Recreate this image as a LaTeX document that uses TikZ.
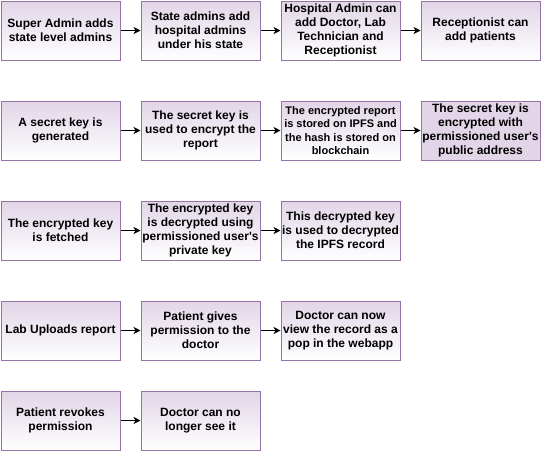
\documentclass[tikz,border=0pt]{standalone}
\usepackage{fontspec}
\setmainfont{Liberation Sans}[Ligatures=TeXOff]
\usetikzlibrary{arrows.meta}
\usetikzlibrary{positioning}
\usetikzlibrary{calc}

\definecolor{boxline}{HTML}{9673A6}
\definecolor{boxtop}{HTML}{E1D5E7}

\tikzset{
	stepbox/.style={draw=boxline, line width=1pt, top color=boxtop, bottom color=white,
		minimum width=119pt, minimum height=59pt, inner sep=0pt, align=center,
		font=\bfseries\fontsize{12}{14}\selectfont},
	flow/.style={line width=1pt, -{Stealth[length=7pt,width=7pt,inset=2pt]}}
}

\begin{document}
\begin{tikzpicture}[x=1pt, y=1pt, auto, swap]

	\def\dx{140};
	\def\x{60.5};

	\useasboundingbox (0,0) rectangle (541,-451);

	% admins
	\foreach \i/\txt/\name in {0/{Super Admin adds\\state level admins}/a0,
		1/{State admins add\\hospital admins\\under his state}/a1,
		2/{Hospital Admin can\\add Doctor, Lab\\Technician and\\Receptionist}/a2,
		3/{Receptionist can\\add patients}/a3} {
		\node[stepbox] (\name) at (\x + \i*\dx, -30.5) {\txt};
	}

	% upload of a report
	\foreach \i/\txt/\name in {0/{A secret key is\\generated}/b0,
		1/{The secret key is\\used to encrypt the\\report}/b1} {
		\node[stepbox] (\name) at (\x + \i*\dx, -130.5) {\txt};
	}
	\node[stepbox, font=\bfseries\fontsize{11}{13.5}\selectfont] (b2) at (\x + 2*\dx, -130.5)
		{The encrypted report\\is stored on IPFS and\\the hash is stored on\\blockchain};
	\node[stepbox, bottom color=boxtop] (b3) at (\x + 3*\dx, -130.5)
		{The secret key is\\encrypted with\\permissioned user's\\public address};

	% reading a report
	\foreach \i/\txt/\name in {0/{The encrypted key\\is fetched}/c0,
		1/{The encrypted key\\is decrypted using\\permissioned user's\\private key}/c1,
		2/{This decrypted key\\is used to decrypted\\the IPFS record}/c2} {
		\node[stepbox] (\name) at (\x + \i*\dx, -230.5) {\txt};
	}

	% permission
	\foreach \i/\txt/\name in {0/{Lab Uploads report}/d0,
		1/{Patient gives\\permission to the\\doctor}/d1,
		2/{Doctor can now\\view the record as a\\pop in the webapp}/d2} {
		\node[stepbox] (\name) at (\x + \i*\dx, -330.5) {\txt};
	}

	% revoke
	\foreach \i/\txt/\name in {0/{Patient revokes\\permission}/e0,
		1/{Doctor can no\\longer see it}/e1} {
		\node[stepbox] (\name) at (\x + \i*\dx, -420.5) {\txt};
	}

	\foreach \a/\b in {a0/a1, a1/a2, a2/a3, b0/b1, b1/b2, b2/b3, c0/c1, c1/c2, d0/d1, d1/d2, e0/e1}
		\draw[flow] (\a) -- (\b);

\end{tikzpicture}
\end{document}
